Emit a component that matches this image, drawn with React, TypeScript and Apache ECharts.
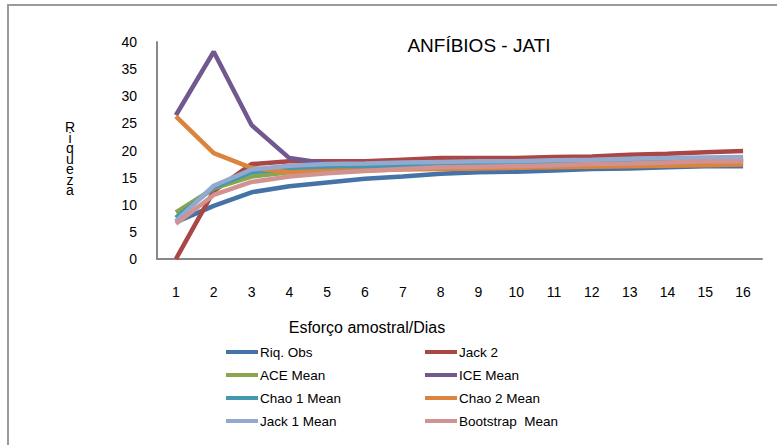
import React, { useEffect, useRef } from "react";
import * as echarts from "echarts";

const categories = ["1", "2", "3", "4", "5", "6", "7", "8", "9", "10", "11", "12", "13", "14", "15", "16"];
const riqObs = [6.8, 9.8, 12.3, 13.4, 14.1, 14.8, 15.2, 15.7, 16.0, 16.1, 16.3, 16.6, 16.7, 16.9, 17.1, 17.1];
const jack2 = [0, 12.5, 17.5, 18.0, 18.0, 18.0, 18.3, 18.6, 18.6, 18.6, 18.8, 18.9, 19.2, 19.4, 19.7, 19.9];
const aceMean = [8.6, 13.0, 15.2, 16.0, 16.5, 16.8, 17.0, 17.2, 17.3, 17.4, 17.5, 17.6, 17.7, 17.8, 17.9, 18.0];
const iceMean = [26.5, 38.2, 24.7, 18.6, 17.6, 17.5, 17.6, 17.7, 17.8, 17.8, 17.9, 18.0, 18.1, 18.2, 18.3, 18.3];
const chao1Mean = [7.6, 13.2, 16.0, 16.6, 17.0, 17.1, 17.2, 17.3, 17.4, 17.5, 17.6, 17.7, 17.8, 17.9, 18.0, 18.0];
const chao2Mean = [26.3, 19.5, 16.8, 16.0, 16.2, 16.3, 16.5, 16.6, 16.7, 16.8, 16.9, 17.0, 17.1, 17.2, 17.3, 17.4];
const jack1Mean = [7.0, 13.5, 16.5, 17.2, 17.5, 17.6, 17.8, 17.9, 18.0, 18.0, 18.2, 18.3, 18.5, 18.6, 18.7, 18.8];
const bootstrapMean = [6.5, 11.8, 14.2, 15.2, 15.8, 16.2, 16.6, 16.9, 17.0, 17.1, 17.3, 17.5, 17.6, 17.8, 18.0, 18.0];

const seriesNames = ["Riq. Obs", "Jack 2", "ACE Mean", "ICE Mean", "Chao 1 Mean", "Chao 2 Mean", "Jack 1 Mean", "Bootstrap  Mean"];
const seriesData = [riqObs, jack2, aceMean, iceMean, chao1Mean, chao2Mean, jack1Mean, bootstrapMean];
const colors = ["#4572A7", "#AA4643", "#89A54E", "#71588F", "#4198AF", "#DB843D", "#93A9CF", "#D19392"];

const FONT = "'Liberation Sans', 'DejaVu Sans', sans-serif";

export default function App() {
  const ref = useRef<HTMLDivElement>(null);
  useEffect(() => {
    if (!ref.current) return;
    const chart = echarts.init(ref.current, undefined, { renderer: "svg" });
    const legendCommon = {
      orient: "vertical" as const,
      top: 345,
      itemWidth: 32,
      itemHeight: 4,
      itemGap: 9,
      icon: "rect",
      textStyle: { fontFamily: FONT, fontSize: 13.5, color: "#000", lineHeight: 14, padding: [0, 0, 0, -3] },
      selectedMode: false,
      padding: 0,
    };
    chart.setOption({
      animation: false,
      color: colors,
      grid: { left: 157, right: 15, top: 42, bottom: 186, containLabel: false },
      title: {
        text: "ANFÍBIOS - JATI",
        left: 474,
        top: 31,
        textAlign: "center",
        textStyle: { fontFamily: FONT, fontSize: 19, fontWeight: "normal", color: "#000" },
      },
      legend: [
        { ...legendCommon, left: 226, data: [seriesNames[0], seriesNames[2], seriesNames[4], seriesNames[6]] },
        { ...legendCommon, left: 425, data: [seriesNames[1], seriesNames[3], seriesNames[5], seriesNames[7]] },
      ],
      xAxis: {
        type: "category",
        data: categories,
        boundaryGap: true,
        axisLine: { lineStyle: { color: "#888", width: 2 } },
        axisTick: { show: false },
        axisLabel: { fontFamily: FONT, fontSize: 14, color: "#000", margin: 26 },
      },
      yAxis: {
        type: "value",
        min: 0,
        max: 40,
        interval: 5,
        axisLine: { show: true, lineStyle: { color: "#888", width: 2 } },
        axisTick: { show: false },
        splitLine: { show: false },
        axisLabel: { fontFamily: FONT, fontSize: 14, color: "#000", margin: 20 },
      },
      graphic: [
        {
          type: "rect",
          shape: { x: 8, y: 5, width: 900, height: 600 },
          style: { fill: "none", stroke: "#9a9a9a", lineWidth: 2 },
          silent: true,
        },
        {
          type: "text",
          x: 367,
          y: 327,
          style: {
            text: "Esforço amostral/Dias",
            fontFamily: FONT,
            fontSize: 16,
            fill: "#000",
            align: "center",
            verticalAlign: "middle",
          },
        },
        {
          type: "text",
          x: 70,
          y: 122,
          style: {
            text: "R\ni\nq\nu\ne\nz\na",
            fontFamily: FONT,
            fontSize: 14,
            lineHeight: 10.5,
            fill: "#000",
            align: "center",
            verticalAlign: "top",
          },
        },
      ],
      series: seriesNames.map((name, i) => ({
        name,
        type: "line",
        data: seriesData[i],
        symbol: "none",
        lineStyle: { width: 4.5, color: colors[i] },
        itemStyle: { color: colors[i] },
      })),
    });
    return () => chart.dispose();
  }, []);
  return <div ref={ref} style={{ position: "absolute", left: 0, top: 0, width: 777, height: 445 }} />;
}
